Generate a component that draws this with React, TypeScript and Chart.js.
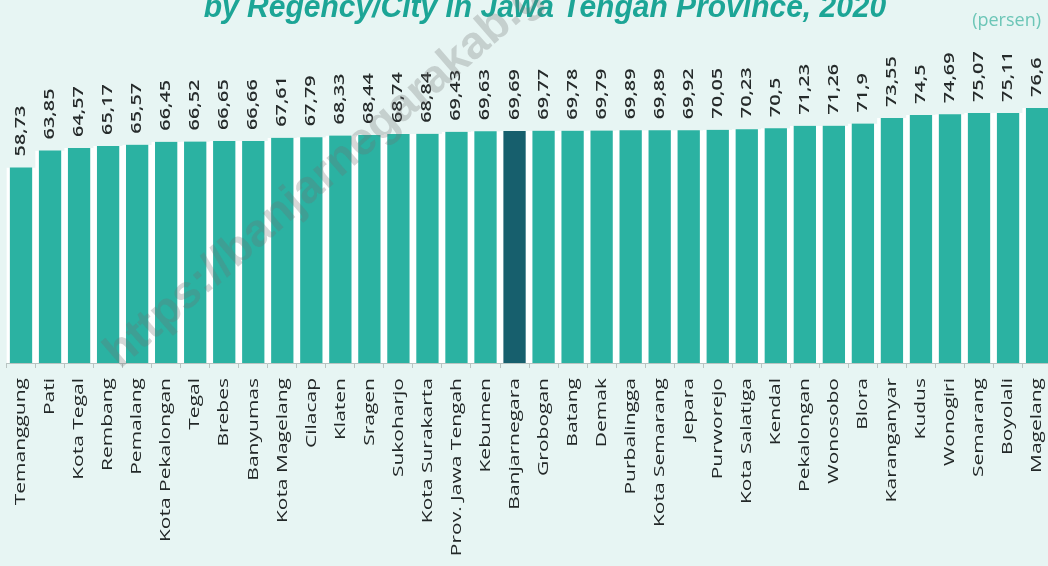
import React, { useEffect, useRef } from "react";
import { Chart, registerables } from "chart.js";

Chart.register(...registerables);

const regions: string[] = [
  "Temanggung", "Pati", "Kota Tegal", "Rembang", "Pemalang", "Kota Pekalongan",
  "Tegal", "Brebes", "Banyumas", "Kota Magelang", "Cilacap", "Klaten", "Sragen",
  "Sukoharjo", "Kota Surakarta", "Prov. Jawa Tengah", "Kebumen", "Banjarnegara",
  "Grobogan", "Batang", "Demak", "Purbalingga", "Kota Semarang", "Jepara",
  "Purworejo", "Kota Salatiga", "Kendal", "Pekalongan", "Wonosobo", "Blora",
  "Karanganyar", "Kudus", "Wonogiri", "Semarang", "Boyolali", "Magelang",
];

const values: number[] = [
  58.73, 63.85, 64.57, 65.17, 65.57, 66.45,
  66.52, 66.65, 66.66, 67.61, 67.79, 68.33, 68.44,
  68.74, 68.84, 69.43, 69.63, 69.69,
  69.77, 69.78, 69.79, 69.89, 69.89, 69.92,
  70.05, 70.23, 70.5, 71.23, 71.26, 71.9,
  73.55, 74.5, 74.69, 75.07, 75.11, 76.6,
];

const highlighted = "Banjarnegara";
const titleText = "by Regency/City in Jawa Tengah Province, 2020";
const unitText = "(persen)";
const watermarkText = "https://banjarnegarakab.go.id";

const BG = "#e7f5f3";
const BAR = "#2bb2a2";
const BAR_DARK = "#175f6d";
const TEAL_TEXT = "#1ca596";

const labelPlugin = {
  id: "customLabels",
  beforeDraw(chart: any) {
    const { ctx, width, height } = chart;
    ctx.save();
    ctx.fillStyle = BG;
    ctx.fillRect(0, 0, width, height);
    ctx.restore();
  },
  afterDatasetsDraw(chart: any) {
    const { ctx } = chart;
    const xs = chart.scales.x;
    const ys = chart.scales.y;
    const data = chart.data.datasets[0].data as number[];
    const labels = chart.data.labels as string[];
    // value labels
    ctx.save();
    ctx.fillStyle = "#262b2b";
    ctx.font = "600 14px 'Open Sans'";
    ctx.textAlign = "left";
    ctx.textBaseline = "middle";
    data.forEach((v, i) => {
      const x = xs.getPixelForValue(i);
      const y = ys.getPixelForValue(v) - 11;
      ctx.save();
      ctx.translate(x, y);
      ctx.rotate(-Math.PI / 2);
      ctx.scale(1.42, 1);
      ctx.fillText(String(v).replace(".", ","), 0, 0);
      ctx.restore();
    });
    ctx.restore();
    // category labels
    ctx.save();
    ctx.fillStyle = "#232828";
    ctx.font = "15px 'Open Sans'";
    ctx.textAlign = "right";
    ctx.textBaseline = "middle";
    const yStart = ys.getPixelForValue(0) + 15;
    labels.forEach((l, i) => {
      const x = xs.getPixelForValue(i);
      ctx.save();
      ctx.translate(x, yStart);
      ctx.rotate(-Math.PI / 2);
      ctx.scale(1.4, 1);
      ctx.fillText(l, 0, 0);
      ctx.restore();
    });
    ctx.restore();
  },
  afterDraw(chart: any) {
    const { ctx } = chart;
    // title
    ctx.save();
    ctx.fillStyle = TEAL_TEXT;
    ctx.font = "italic bold 30px 'Liberation Sans', Arial, sans-serif";
    ctx.textAlign = "center";
    ctx.textBaseline = "alphabetic";
    ctx.translate(545, 17);
    ctx.scale(1, 1.05);
    ctx.fillText(titleText, 0, 0);
    ctx.restore();
    // unit
    ctx.save();
    ctx.fillStyle = "#6cc6b7";
    ctx.font = "18px 'Open Sans'";
    ctx.textAlign = "right";
    ctx.textBaseline = "middle";
    ctx.fillText(unitText, 1041, 21);
    ctx.restore();
    // watermark
    ctx.save();
    ctx.font = "bold 46px 'Liberation Sans', Arial, sans-serif";
    ctx.fillStyle = "rgba(110,110,110,0.28)";
    const ang = (-41 * Math.PI) / 180;
    const w = ctx.measureText("https://").width + ctx.measureText("b").width / 2;
    const sx = 238 - w * Math.cos(ang);
    const sy = 250 - w * Math.sin(ang);
    ctx.translate(sx, sy);
    ctx.rotate(ang);
    ctx.textAlign = "left";
    ctx.textBaseline = "middle";
    ctx.fillText(watermarkText, 0, 0);
    ctx.restore();
  },
};

export default function App() {
  const ref = useRef<HTMLCanvasElement | null>(null);
  useEffect(() => {
    document.body.style.overflow = "hidden";
    const canvas = ref.current;
    if (!canvas) return;
    const colors = regions.map((r) => (r === highlighted ? BAR_DARK : BAR));
    const chart = new Chart(canvas, {
      type: "bar",
      data: {
        labels: regions,
        datasets: [
          {
            data: values,
            backgroundColor: colors,
            borderColor: "#ffffff",
            borderWidth: { left: 3.7, right: 3.7, top: 0, bottom: 0 },
            borderSkipped: false,
            barPercentage: 1,
            categoryPercentage: 1,
          },
        ],
      },
      options: {
        animation: false,
        responsive: false,
        devicePixelRatio: 1,
        layout: { padding: { left: 6.5, right: 8.4, top: 30, bottom: 198 } },
        plugins: {
          legend: { display: false },
          tooltip: { enabled: false },
          title: { display: false },
        },
        scales: {
          x: {
            grid: {
              display: true,
              drawOnChartArea: false,
              drawTicks: true,
              tickLength: 5,
              color: "#b9c4c2",
            },
            border: { display: true, color: "#b9c4c2" },
            ticks: { display: false },
          },
          y: {
            display: false,
            min: 0,
            max: 100,
          },
        },
      },
      plugins: [labelPlugin],
    });
    return () => chart.destroy();
  }, []);
  return (
    <div style={{ position: "absolute", left: 0, top: 0, width: 1060, height: 566, overflow: "hidden", background: BG }}>
      <canvas ref={ref} width={1060} height={566} style={{ display: "block" }} />
    </div>
  );
}
